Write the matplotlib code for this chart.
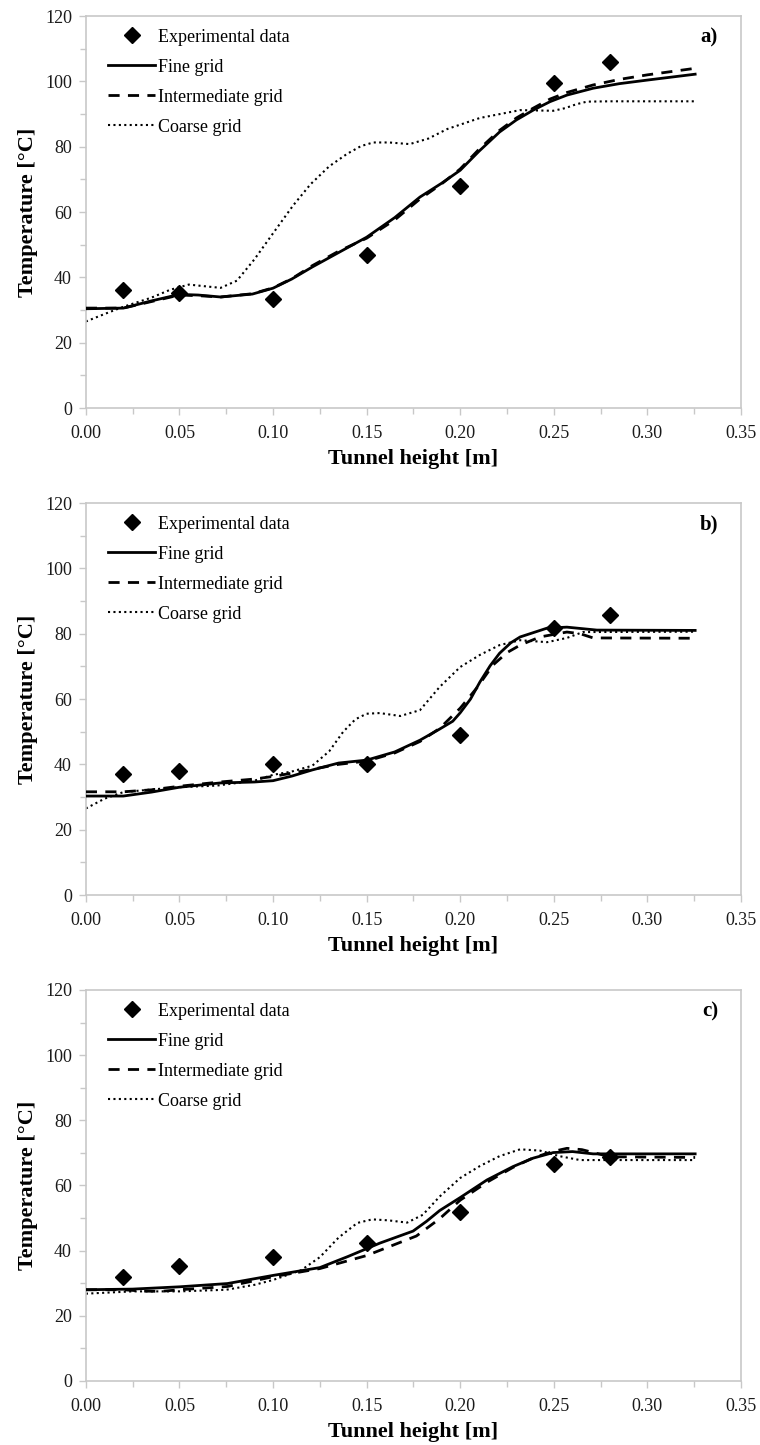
import numpy as np
import matplotlib.pyplot as plt
from matplotlib.ticker import MultipleLocator, FormatStrFormatter

plt.rcParams['font.family'] = ['Liberation Serif', 'DejaVu Serif']

# ------------------------------------------------------------------
# Experimental data (same heights in every panel)
# ------------------------------------------------------------------
exp_x = [0.02, 0.05, 0.10, 0.15, 0.20, 0.25, 0.28]
exp_a = [36.1, 35.2, 33.4, 46.8, 68.0, 99.5, 105.9]
exp_b = [37.2, 38.0, 40.0, 40.0, 49.0, 81.8, 85.8]
exp_c = [32.0, 35.2, 38.0, 42.3, 51.8, 66.6, 68.7]

# ------------------------------------------------------------------
# Panel a) simulated profiles
# ------------------------------------------------------------------
fine_a_x = [0.0, 0.02, 0.035, 0.05, 0.06, 0.072, 0.089, 0.10, 0.11, 0.121, 0.135,
            0.15, 0.165, 0.1785, 0.19, 0.20, 0.21, 0.221, 0.23, 0.239, 0.248,
            0.257, 0.271, 0.285, 0.30, 0.3255]
fine_a_y = [30.4, 30.6, 32.8, 34.8, 34.6, 34.0, 34.9, 36.7, 39.5, 43.2, 47.6,
            52.3, 58.3, 64.6, 68.8, 72.8, 78.6, 84.5, 88.2, 91.2, 93.8,
            95.8, 97.9, 99.3, 100.4, 102.2]

inter_a_x = fine_a_x
inter_a_y = [30.6, 30.6, 32.6, 34.6, 34.4, 34.0, 35.0, 36.8, 39.6, 43.6, 48.0,
             52.0, 57.6, 64.0, 68.6, 73.2, 79.2, 85.0, 88.8, 91.8, 94.6,
             96.6, 98.9, 100.6, 102.0, 104.0]

coarse_a_x = [0.0, 0.01, 0.02, 0.035, 0.045, 0.055, 0.065, 0.072, 0.0807, 0.09,
              0.10, 0.1107, 0.12, 0.13, 0.1395, 0.147, 0.1535, 0.162, 0.173,
              0.183, 0.193, 0.2105, 0.232, 0.2497, 0.256, 0.262, 0.2677, 0.28,
              0.3255]
coarse_a_y = [26.5, 28.8, 31.0, 33.8, 36.2, 37.8, 37.2, 36.8, 39.0, 45.5,
              53.5, 62.0, 68.5, 74.0, 77.8, 80.2, 81.3, 81.3, 80.8,
              82.5, 85.4, 88.8, 91.2, 91.0, 91.8, 93.0, 93.8, 93.9,
              93.9]

# ------------------------------------------------------------------
# Panel b) simulated profiles
# ------------------------------------------------------------------
fine_b_x = [0.0, 0.02, 0.035, 0.05, 0.0716, 0.09, 0.10, 0.11, 0.121, 0.135,
            0.15, 0.165, 0.1785, 0.189, 0.196, 0.20, 0.2055, 0.2105, 0.216,
            0.221, 0.227, 0.232, 0.2464, 0.257, 0.273, 0.3255]
fine_b_y = [30.3, 30.3, 31.5, 33.0, 34.3, 34.6, 35.0, 36.4, 38.3, 40.4,
            41.3, 43.8, 47.4, 50.8, 53.2, 55.8, 60.0, 65.2, 70.2,
            74.0, 77.2, 79.0, 81.7, 82.0, 81.1, 81.0]

inter_b_x = [0.0, 0.02, 0.035, 0.05, 0.0716, 0.09, 0.10, 0.11, 0.121, 0.135,
             0.15, 0.165, 0.1785, 0.189, 0.20, 0.209, 0.2175, 0.225, 0.232,
             0.2426, 0.257, 0.264, 0.271, 0.3255]
inter_b_y = [31.6, 31.6, 32.2, 33.3, 34.6, 35.5, 36.3, 37.3, 38.5, 40.0,
             41.0, 43.5, 47.0, 51.0, 57.2, 63.5, 70.4, 74.2, 76.5,
             79.0, 80.5, 80.0, 78.7, 78.6]

coarse_b_x = [0.0, 0.01, 0.02, 0.035, 0.05, 0.07, 0.09, 0.10, 0.11, 0.121,
              0.13, 0.1375, 0.144, 0.15, 0.157, 0.168, 0.1785, 0.189, 0.20,
              0.2105, 0.221, 0.232, 0.2464, 0.257, 0.2656, 0.3255]
coarse_b_y = [26.5, 29.5, 31.5, 32.3, 33.0, 33.5, 35.0, 36.8, 37.8, 39.6,
              44.0, 50.0, 53.8, 55.5, 55.7, 54.8, 56.6, 63.7, 69.8,
              73.5, 76.5, 78.0, 77.4, 78.7, 80.5, 80.6]

# ------------------------------------------------------------------
# Panel c) simulated profiles
# ------------------------------------------------------------------
fine_c_x = [0.0, 0.025, 0.05, 0.0756, 0.10, 0.125, 0.14, 0.157, 0.1748,
            0.182, 0.189, 0.20, 0.2143, 0.2282, 0.239, 0.2497, 0.26, 0.271,
            0.3255]
fine_c_y = [28.0, 28.2, 28.9, 29.9, 32.4, 34.8, 38.2, 42.3, 46.0,
            49.0, 52.3, 56.3, 61.7, 65.8, 68.4, 70.1, 70.4, 69.7,
            69.7]

inter_c_x = [0.0, 0.02, 0.03, 0.04, 0.05, 0.0756, 0.10, 0.125, 0.15, 0.1766,
             0.189, 0.20, 0.2143, 0.228, 0.239, 0.25, 0.257, 0.265, 0.28, 0.3255]
inter_c_y = [28.0, 28.0, 27.6, 27.5, 28.0, 29.0, 32.0, 34.5, 38.5, 44.5,
             49.8, 55.5, 61.0, 65.5, 68.5, 70.5, 71.4, 71.0, 68.8, 68.6]

coarse_c_x = [0.0, 0.025, 0.05, 0.075, 0.09, 0.10, 0.115, 0.125, 0.135, 0.145,
              0.153, 0.1616, 0.1716, 0.18, 0.189, 0.20, 0.2106, 0.221, 0.232,
              0.2426, 0.253, 0.264, 0.3255]
coarse_c_y = [26.8, 27.5, 27.5, 28.0, 29.5, 31.0, 34.0, 38.0, 44.0, 48.5,
              49.6, 49.3, 48.6, 51.0, 56.6, 62.3, 66.0, 69.0, 71.1,
              70.7, 69.0, 67.8, 67.8]

panels = [
    ("a)", exp_a, (fine_a_x, fine_a_y), (inter_a_x, inter_a_y), (coarse_a_x, coarse_a_y)),
    ("b)", exp_b, (fine_b_x, fine_b_y), (inter_b_x, inter_b_y), (coarse_b_x, coarse_b_y)),
    ("c)", exp_c, (fine_c_x, fine_c_y), (inter_c_x, inter_c_y), (coarse_c_x, coarse_c_y)),
]

fig = plt.figure(figsize=(7.6, 14.45), dpi=100)

# axes boxes [left, bottom, width, height] in figure fraction
boxes = [
    [0.113, 0.7176, 0.862, 0.2713],
    [0.113, 0.3806, 0.862, 0.2713],
    [0.113, 0.0443, 0.862, 0.2706],
]

spine_col = "#c8c8c8"

for box, (tag, exp_y, fine, inter, coarse) in zip(boxes, panels):
    ax = fig.add_axes(box)

    ax.plot(exp_x, exp_y, linestyle="none", marker="D", markersize=8,
            color="black", label="Experimental data", zorder=5)
    ax.plot(fine[0], fine[1], color="black", linewidth=2.0,
            label="Fine grid", zorder=4)
    ax.plot(inter[0], inter[1], color="black", linewidth=2.0,
            linestyle=(0, (4, 3)), label="Intermediate grid", zorder=3)
    ax.plot(coarse[0], coarse[1], color="black", linewidth=1.5,
            linestyle=(0, (1, 1.6)), label="Coarse grid", zorder=2)

    ax.set_xlim(0, 0.35)
    ax.set_ylim(0, 120)
    ax.xaxis.set_major_locator(MultipleLocator(0.05))
    ax.xaxis.set_minor_locator(MultipleLocator(0.025))
    ax.yaxis.set_major_locator(MultipleLocator(20))
    ax.yaxis.set_minor_locator(MultipleLocator(10))
    ax.xaxis.set_major_formatter(FormatStrFormatter("%.2f"))

    for s in ax.spines.values():
        s.set_color(spine_col)
        s.set_linewidth(1.2)

    ax.tick_params(which="both", direction="out", color=spine_col,
                   labelsize=13, labelcolor="#1a1a1a")
    ax.tick_params(axis="x", pad=7)
    ax.tick_params(axis="y", pad=5)
    ax.tick_params(which="major", length=5, width=1.0)
    ax.tick_params(which="minor", length=4, width=1.0)
    ax.tick_params(axis="y", which="both", right=False)
    ax.tick_params(axis="x", which="both", top=False)

    ax.set_xlabel("Tunnel height [m]", fontsize=16, fontweight="bold", labelpad=5)
    ax.set_ylabel("Temperature [°C]", fontsize=16, fontweight="bold", labelpad=5)

    ax.text(0.965, 0.945, tag, transform=ax.transAxes, ha="right", va="center",
            fontsize=15, fontweight="bold")

    ax.legend(loc="upper left", frameon=False, fontsize=13,
              handlelength=2.6, handletextpad=0.15, labelspacing=0.72,
              borderaxespad=0.3, bbox_to_anchor=(0.015, 1.0))

fig.savefig("out.png", dpi=100)
